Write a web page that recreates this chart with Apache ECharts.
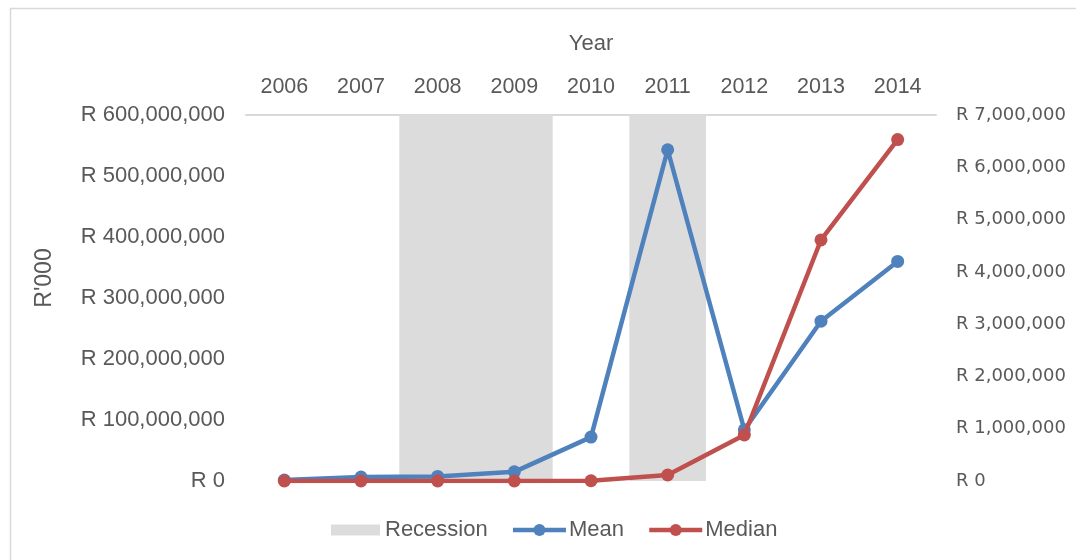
<!DOCTYPE html>
<html>
<head>
<meta charset="utf-8">
<script src="https://cdn.jsdelivr.net/npm/echarts@6/dist/echarts.min.js"></script>
<style>
  html, body { margin: 0; padding: 0; background: #fff; }
  #chart { width: 1076px; height: 560px; }
</style>
</head>
<body>
<div id="chart"></div>
<script>
// Years shown along the top axis
const years = ['2006', '2007', '2008', '2009', '2010', '2011', '2012', '2013', '2014'];
// Recession periods, drawn as full-height shaded columns (left axis scale)
const recession = [0, 0, 600000000, 600000000, 0, 600000000, 0, 0, 0];
// Mean value (left axis)
const mean = [1500000, 6500000, 7500000, 15000000, 72000000, 543000000, 84000000, 262000000, 360000000];
// Median value (right axis)
const median = [0, 0, 0, 0, 5000, 115000, 880000, 4610000, 6530000];

const fmtRand = v => 'R ' + Number(v).toLocaleString('en-US');
const FONT = 'Liberation Sans, Arial, sans-serif';
const GREY_TEXT = '#595959';

const chart = echarts.init(document.getElementById('chart'), null, { renderer: 'canvas' });
chart.setOption({
  animation: false,
  backgroundColor: '#ffffff',
  textStyle: { fontFamily: FONT, color: GREY_TEXT },
  graphic: [{
    type: 'rect',
    shape: { x: 10.5, y: 8.5, width: 1100, height: 600 },
    style: { fill: 'none', stroke: '#d9d9d9', lineWidth: 1.5 },
    silent: true, z: -10
  }, {
    // vertical title of the left value axis
    type: 'text',
    x: 45, y: 278,
    rotation: Math.PI / 2,
    style: {
      text: "R'000",
      font: '23px ' + FONT,
      fill: GREY_TEXT,
      align: 'center',
      verticalAlign: 'middle'
    },
    silent: true
  }],
  grid: { left: 246, right: 140, top: 115, bottom: 79, containLabel: false },
  legend: {
    bottom: 14,
    left: 322,
    itemGap: 23,
    itemWidth: 53,
    itemHeight: 15,
    textStyle: { fontSize: 22, color: GREY_TEXT, fontFamily: FONT, padding: [0, 0, 0, -2] },
    data: [
      // white border trims the swatch to a slimmer band
      { name: 'Recession', icon: 'rect', itemStyle: { color: '#dcdcdc', borderColor: '#ffffff', borderWidth: 4 } },
      { name: 'Mean', lineStyle: { width: 4.5 } },
      { name: 'Median', lineStyle: { width: 4.5 } }
    ]
  },
  xAxis: {
    type: 'category',
    position: 'top',
    data: years,
    name: 'Year',
    nameLocation: 'middle',
    nameGap: 60,
    nameTextStyle: { fontSize: 22, color: GREY_TEXT },
    axisLine: { onZero: false, lineStyle: { color: '#d9d9d9', width: 2 } },
    axisTick: { show: false },
    axisLabel: { fontSize: 21.5, color: GREY_TEXT, margin: 17 },
    splitLine: { show: false }
  },
  yAxis: [{
    type: 'value',
    min: 0, max: 600000000, interval: 100000000,
    axisLine: { show: false },
    axisTick: { show: false },
    splitLine: { show: false },
    axisLabel: { fontSize: 22, color: GREY_TEXT, margin: 21, formatter: fmtRand }
  }, {
    type: 'value',
    min: 0, max: 7000000, interval: 1000000,
    position: 'right',
    axisLine: { show: false },
    axisTick: { show: false },
    splitLine: { show: false },
    axisLabel: { fontSize: 18, color: GREY_TEXT, margin: 20, fontFamily: 'DejaVu Sans, sans-serif', formatter: fmtRand }
  }],
  series: [{
    name: 'Recession',
    type: 'bar',
    yAxisIndex: 0,
    data: recession,
    barWidth: '100%',
    barCategoryGap: '0%',
    itemStyle: { color: '#dcdcdc' },
    z: 1
  }, {
    name: 'Mean',
    type: 'line',
    yAxisIndex: 0,
    data: mean,
    symbol: 'circle',
    symbolSize: 13,
    lineStyle: { width: 4.5, color: '#4f81bd' },
    itemStyle: { color: '#4f81bd' },
    z: 3
  }, {
    name: 'Median',
    type: 'line',
    yAxisIndex: 1,
    data: median,
    symbol: 'circle',
    symbolSize: 13,
    lineStyle: { width: 4.5, color: '#c0504d' },
    itemStyle: { color: '#c0504d' },
    z: 4
  }]
});
</script>
</body>
</html>
